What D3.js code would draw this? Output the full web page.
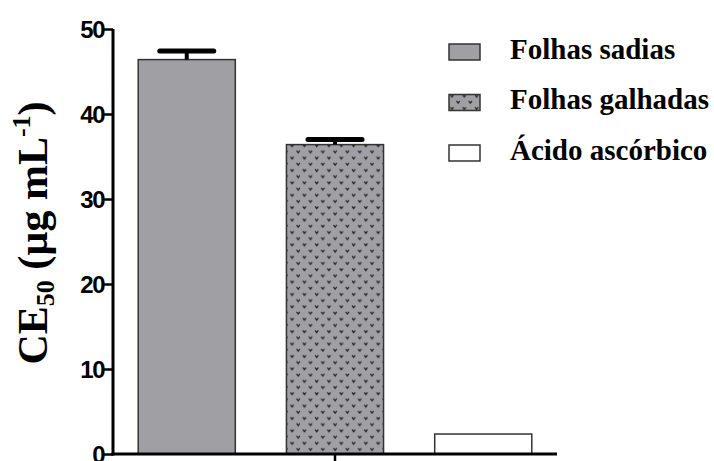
<!DOCTYPE html>
<html><head><meta charset="utf-8">
<script src="https://cdn.jsdelivr.net/npm/d3@7"></script>
<style>body{margin:0;background:#fff}svg{display:block}</style>
</head><body>
<svg id="c" width="714" height="461"></svg>
<script>
const categories = ["Folhas sadias", "Folhas galhadas", "Ácido ascórbico"];
const values = [46.4, 36.4, 2.35];
const errors = [1.0, 0.6, 0];
const yTicks = [0, 10, 20, 30, 40, 50];

const svg = d3.select("#c");
const x = d3.scaleBand().domain(categories).range([113, 557]).paddingInner(0.345).paddingOuter(0.17);
const y = d3.scaleLinear().domain([0, 50]).range([454, 29]);

const defs = svg.append("defs");
const pat = defs.append("pattern").attr("id", "dots").attr("patternUnits", "userSpaceOnUse")
  .attr("width", 12.3).attr("height", 12.4);
pat.append("rect").attr("width", 12.3).attr("height", 12.4).attr("fill", "#a09fa4");
[[3, 3], [9.2, 9.2]].forEach(([cx, cy]) => {
  pat.append("path").attr("d", `M${cx-1.6},${cy-1.2} L${cx},${cy+1} L${cx+1.6},${cy-1.2}`)
    .attr("fill", "none").attr("stroke", "#222").attr("stroke-width", 1.2);
});
const fills = ["#a09fa4", "url(#dots)", "#ffffff"];

// bars
svg.selectAll("rect.bar").data(categories).join("rect").attr("class", "bar")
  .attr("x", d => x(d)).attr("width", x.bandwidth())
  .attr("y", (d, i) => y(values[i])).attr("height", (d, i) => y(0) - y(values[i]))
  .attr("fill", (d, i) => fills[i]).attr("stroke", "#333").attr("stroke-width", 1.5);

// error bars
categories.forEach((c, i) => {
  if (!errors[i]) return;
  const cx = x(c) + x.bandwidth() / 2;
  svg.append("line").attr("x1", cx).attr("x2", cx).attr("y1", y(values[i])).attr("y2", y(values[i] + errors[i]))
    .attr("stroke", "#000").attr("stroke-width", 4);
  svg.append("line").attr("x1", cx - 27).attr("x2", cx + 27)
    .attr("y1", y(values[i] + errors[i])).attr("y2", y(values[i] + errors[i]))
    .attr("stroke", "#000").attr("stroke-width", 5).attr("stroke-linecap", "round");
});

// y axis
const yAxis = svg.append("g").attr("transform", "translate(113,0)")
  .call(d3.axisLeft(y).tickValues(yTicks).tickSize(9).tickPadding(0).tickFormat(d3.format("d")));
yAxis.select(".domain").attr("stroke", "#000").attr("stroke-width", 3).attr("d", `M0,${y(50)}V${y(0)+1.5}`);
yAxis.selectAll(".tick line").attr("stroke", "#000").attr("stroke-width", 2.5);
yAxis.selectAll(".tick text").attr("font-family", "Liberation Sans, Arial, sans-serif")
  .attr("font-weight", "bold").attr("font-size", 24).attr("letter-spacing", "-1.5px").attr("fill", "#000")
  .attr("dy", "0.36em");

// x axis
svg.append("line").attr("x1", 111.5).attr("x2", 557).attr("y1", y(0)).attr("y2", y(0))
  .attr("stroke", "#000").attr("stroke-width", 3);
svg.append("line").attr("x1", (113 + 557) / 2).attr("x2", (113 + 557) / 2).attr("y1", y(0)).attr("y2", 463)
  .attr("stroke", "#000").attr("stroke-width", 2.5);

// y title
const t = svg.append("text").attr("transform", "translate(47,233) rotate(-90)")
  .attr("text-anchor", "middle").attr("font-family", "Liberation Serif, Times New Roman, serif")
  .attr("font-weight", "bold").attr("font-size", 42).attr("fill", "#000");
t.append("tspan").text("CE");
t.append("tspan").text("50").attr("font-size", 26).attr("dy", 7);
t.append("tspan").text(" (µg mL").attr("dy", -7);
t.append("tspan").text("-1").attr("font-size", 26).attr("dy", -17);
t.append("tspan").text(")").attr("dy", 17);

// legend
const leg = svg.append("g");
categories.forEach((c, i) => {
  const ly = 44 + i * 50.5;
  leg.append("rect").attr("x", 449).attr("y", ly).attr("width", 31).attr("height", 16)
    .attr("fill", fills[i]).attr("stroke", "#333").attr("stroke-width", 1.5);
  leg.append("text").attr("x", 510).attr("y", ly + 14.5).text(c)
    .attr("font-family", "Liberation Serif, Times New Roman, serif").attr("font-weight", "bold")
    .attr("font-size", 29).attr("fill", "#000");
});
</script>
</body></html>
